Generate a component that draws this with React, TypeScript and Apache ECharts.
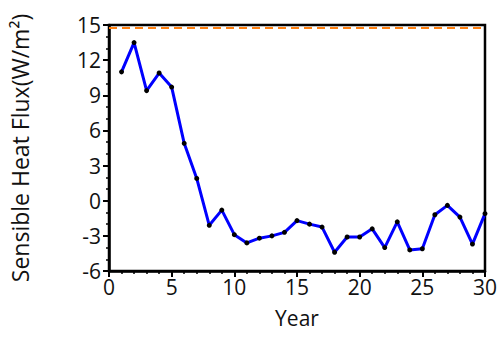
import React, { useEffect, useRef } from "react";
import * as echarts from "echarts";

const years = [1, 2, 3, 4, 5, 6, 7, 8, 9, 10, 11, 12, 13, 14, 15, 16, 17, 18, 19, 20, 21, 22, 23, 24, 25, 26, 27, 28, 29, 30];
const flux = [11.0, 13.5, 9.4, 10.9, 9.7, 4.9, 1.9, -2.1, -0.8, -2.9, -3.6, -3.2, -3.0, -2.7, -1.7, -2.0, -2.25, -4.4, -3.1, -3.1, -2.4, -4.0, -1.8, -4.2, -4.1, -1.2, -0.4, -1.4, -3.7, -1.1];
const refLevel = 14.8;

const FONT = "Open Sans";

export default function App() {
  const ref = useRef<HTMLDivElement>(null);
  useEffect(() => {
    if (!ref.current) return;
    const chart = echarts.init(ref.current, undefined, { renderer: "svg" });
    chart.setOption({
      animation: false,
      grid: { left: 106, right: 13, top: 25, bottom: 67, show: true, borderColor: "#000", borderWidth: 2.5, backgroundColor: "transparent" },
      xAxis: {
        type: "value",
        min: 0,
        max: 30,
        interval: 5,
        name: "Year",
        nameLocation: "middle",
        nameGap: 36,
        nameTextStyle: { fontFamily: FONT, fontSize: 21, color: "#111" },
        axisLine: { onZero: false, lineStyle: { color: "#000", width: 2.5 } },
        axisTick: { inside: false, length: 6, lineStyle: { color: "#000", width: 2 } },
        minorTick: { show: true, splitNumber: 5, length: 3, lineStyle: { color: "#000", width: 1.5 } },
        axisLabel: { fontFamily: FONT, fontSize: 21, color: "#111", margin: 5 },
        splitLine: { show: false },
      },
      yAxis: {
        type: "value",
        min: -6,
        max: 15,
        interval: 3,
        name: "Sensible Heat Flux(W/m²)",
        nameLocation: "middle",
        nameGap: 78,
        nameTextStyle: { fontFamily: FONT, fontSize: 23, color: "#111" },
        axisLine: { show: true, onZero: false, lineStyle: { color: "#000", width: 2.5 } },
        axisTick: { show: true, inside: false, length: 6, lineStyle: { color: "#000", width: 2 } },
        minorTick: { show: true, splitNumber: 3, length: 3, lineStyle: { color: "#000", width: 1.5 } },
        axisLabel: { fontFamily: FONT, fontSize: 21, color: "#111", margin: 8 },
        splitLine: { show: false },
      },
      series: [
        {
          type: "line",
          data: years.map((y, i) => [y, flux[i]]),
          lineStyle: { color: "#0000ff", width: 3 },
          itemStyle: { color: "#000" },
          symbol: "circle",
          symbolSize: 5,
          z: 3,
          markLine: {
            silent: true,
            symbol: "none",
            label: { show: false },
            lineStyle: { color: "#ff7f0e", type: [8, 5], width: 2 },
            data: [{ yAxis: refLevel }],
          },
        },
      ],
    });
    return () => chart.dispose();
  }, []);
  return <div ref={ref} style={{ width: 500, height: 338, position: "absolute", left: 0, top: 0 }} />;
}
